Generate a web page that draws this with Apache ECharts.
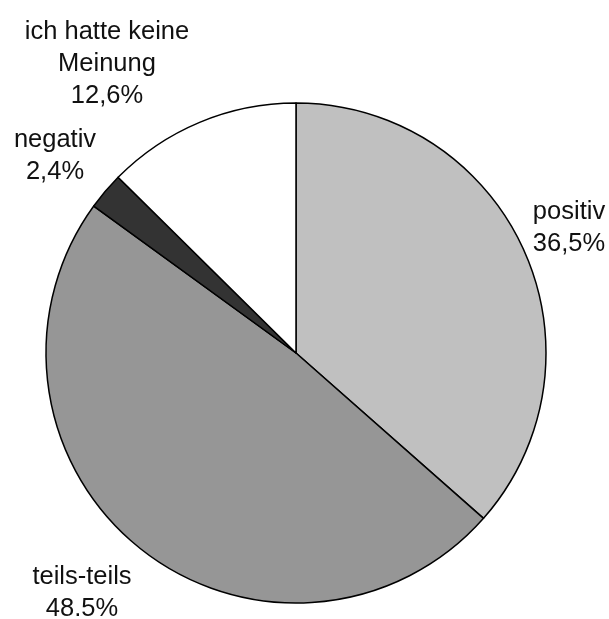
<!DOCTYPE html>
<html>
<head>
<meta charset="utf-8">
<script src="https://cdn.jsdelivr.net/npm/echarts@6/dist/echarts.min.js"></script>
<style>
  html, body { margin: 0; padding: 0; background: #fff; }
  #chart { width: 609px; height: 619px; }
</style>
</head>
<body>
<div id="chart"></div>
<script>
// Data (clockwise from 12 o'clock)
const categories = ['positiv', 'teils-teils', 'negativ', 'ich hatte keine\nMeinung'];
const values = [36.5, 48.5, 2.4, 12.6];
const valueLabels = ['36,5%', '48.5%', '2,4%', '12,6%'];

const sliceColors = ['#c0c0c0', '#969696', '#333333', '#ffffff'];
// label anchor points (centre of text block)
const labelSpots = [[569, 228], [82, 593], [55, 156], [107, 64]];

const chart = echarts.init(document.getElementById('chart'));

const option = {
    animation: false,
    series: [
        {
            type: 'pie',
            center: [296, 353],
            radius: 250,
            startAngle: 90,
            clockwise: true,
            avoidLabelOverlap: false,
            itemStyle: {
                borderColor: '#000',
                borderWidth: 1.5
            },
            label: {
                show: true,
                position: 'outside',
                fontFamily: 'Liberation Sans, Arial, sans-serif',
                fontSize: 25.5,
                lineHeight: 32,
                color: '#111',
                align: 'center',
                formatter: (p) => p.name + '\n' + valueLabels[p.dataIndex]
            },
            labelLine: { show: false },
            labelLayout: (params) => ({
                x: labelSpots[params.dataIndex][0],
                y: labelSpots[params.dataIndex][1],
                align: 'center',
                verticalAlign: 'middle'
            }),
            emphasis: { disabled: true },
            data: categories.map((name, i) => ({
                name,
                value: values[i],
                itemStyle: { color: sliceColors[i] }
            }))
        }
    ]
};

chart.setOption(option);
</script>
</body>
</html>
